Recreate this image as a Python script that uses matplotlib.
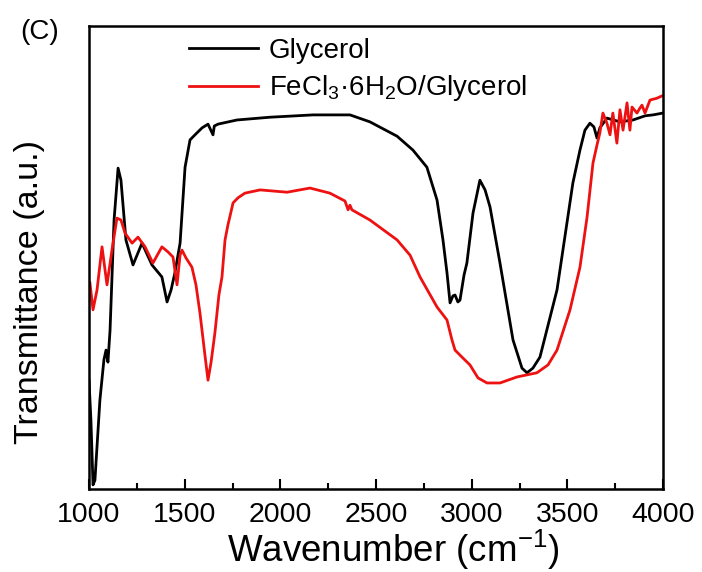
import numpy as np
import matplotlib
matplotlib.use('Agg')
import matplotlib.pyplot as plt
from matplotlib.ticker import MultipleLocator

plt.rcParams['font.family'] = ['Liberation Sans', 'DejaVu Sans']
plt.rcParams['mathtext.fontset'] = 'custom'
plt.rcParams['mathtext.rm'] = 'Liberation Sans'
plt.rcParams['mathtext.it'] = 'Liberation Sans'

# Glycerol spectrum (wavenumber, transmittance a.u.)
gly_x = [1000, 1010, 1021, 1031, 1057, 1078, 1089, 1099, 1110, 1131, 1152, 1167, 1193,
         1230, 1277, 1329, 1381, 1408, 1429, 1449, 1476, 1502, 1528, 1554, 1591, 1622,
         1648, 1655, 1674, 1773, 1946, 2171, 2364, 2468, 2610, 2693, 2766, 2819, 2850,
         2871, 2887, 2902, 2913, 2928, 2939, 2960, 2975, 3007, 3043, 3070, 3096, 3148,
         3216, 3263, 3289, 3320, 3357, 3446, 3529, 3566, 3592, 3618, 3639, 3655, 3670,
         3707, 3775, 3843, 3906, 3948, 4000]
gly_y = [23.5, 14.9, 0.9, 1.9, 19.2, 27.9, 30.0, 27.4, 34.3, 58.1, 69.3, 66.7, 53.8,
         48.4, 53.1, 48.4, 45.8, 40.4, 43.0, 46.7, 53.1, 69.5, 75.4, 76.5, 78.0, 78.8,
         76.5, 78.4, 78.8, 79.7, 80.3, 80.8, 80.8, 79.3, 76.2, 73.2, 69.5, 62.4, 53.8,
         46.7, 40.2, 41.7, 41.9, 40.4, 40.8, 46.2, 48.8, 59.6, 66.7, 64.6, 60.9, 48.8,
         32.2, 26.1, 25.1, 26.1, 28.5, 43.0, 66.1, 73.2, 77.5, 79.0, 78.2, 75.8, 78.0,
         80.1, 79.3, 79.7, 80.6, 80.8, 81.2]

# FeCl3.6H2O/Glycerol spectrum
fe_x = [1005, 1021, 1042, 1068, 1094, 1120, 1146, 1167, 1188, 1225, 1256, 1293, 1334,
        1381, 1413, 1439, 1460, 1476, 1486, 1507, 1538, 1559, 1580, 1606, 1622, 1638,
        1658, 1679, 1695, 1711, 1726, 1753, 1779, 1815, 1894, 2035, 2155, 2259, 2338,
        2354, 2364, 2374, 2468, 2610, 2678, 2730, 2819, 2871, 2897, 2913, 2949, 2991,
        3033, 3080, 3148, 3237, 3341, 3399, 3446, 3514, 3566, 3603, 3634, 3655, 3670,
        3686, 3707, 3723, 3738, 3759, 3775, 3791, 3812, 3827, 3838, 3864, 3880, 3890,
        3906, 3932, 3968, 3995]
fe_y = [44.5, 38.7, 43.0, 52.3, 44.1, 51.6, 58.5, 58.1, 55.3, 53.1, 54.4, 52.3, 48.8,
        52.3, 51.2, 50.1, 44.1, 50.5, 51.6, 49.9, 47.9, 44.1, 38.0, 28.9, 23.5, 27.4,
        33.7, 41.9, 45.8, 53.8, 57.0, 61.8, 62.9, 63.9, 64.6, 64.1, 65.0, 63.9, 62.2,
        60.3, 61.3, 60.3, 58.1, 53.8, 50.5, 45.8, 39.3, 36.5, 32.2, 30.0, 28.5, 26.8,
        24.0, 22.9, 22.9, 24.2, 25.1, 26.8, 30.0, 38.7, 47.9, 58.7, 70.4, 74.3, 76.9,
        81.2, 79.0, 76.5, 81.2, 74.7, 81.9, 77.5, 83.4, 77.5, 82.5, 81.2, 82.3, 82.9,
        81.2, 84.0, 84.4, 84.9]

fig = plt.figure(figsize=(7.02, 5.72), dpi=100)
ax = fig.add_axes([89 / 702, 1 - 489 / 572, 574 / 702, 463 / 572])

ax.plot(gly_x, gly_y, color='black', lw=2.0, label='Glycerol')
ax.plot(fe_x, fe_y, color='#ee1111', lw=2.0, label=r'FeCl$_3$·6H$_2$O/Glycerol')

ax.set_xlim(1000, 4000)
ax.set_ylim(0, 100)
ax.xaxis.set_major_locator(MultipleLocator(500))
ax.xaxis.set_minor_locator(MultipleLocator(250))
ax.tick_params(axis='x', which='major', direction='in', length=7, width=1.5,
               labelsize=20.5, pad=9)
ax.tick_params(axis='x', which='minor', direction='in', length=4, width=1.5)
ax.set_yticks([])
for s in ax.spines.values():
    s.set_linewidth(1.8)

ax.set_xlabel(r'Wavenumber (cm$^{-1}$)', fontsize=26.5)
ax.xaxis.set_label_coords(0.53, -0.084)
ax.set_ylabel('Transmittance (a.u.)', fontsize=24.5)
ax.yaxis.set_label_coords(-0.077, 0.425)

ax.legend(loc='upper left', bbox_to_anchor=(0.171, 0.978), frameon=False,
          fontsize=20, handlelength=2.5, handletextpad=0.4, labelspacing=0.35,
          borderpad=0.05, borderaxespad=0)

fig.text(20 / 702, 1 - 32 / 572, '(C)', fontsize=20, va='center', ha='left')

fig.savefig('out.png', dpi=100)
